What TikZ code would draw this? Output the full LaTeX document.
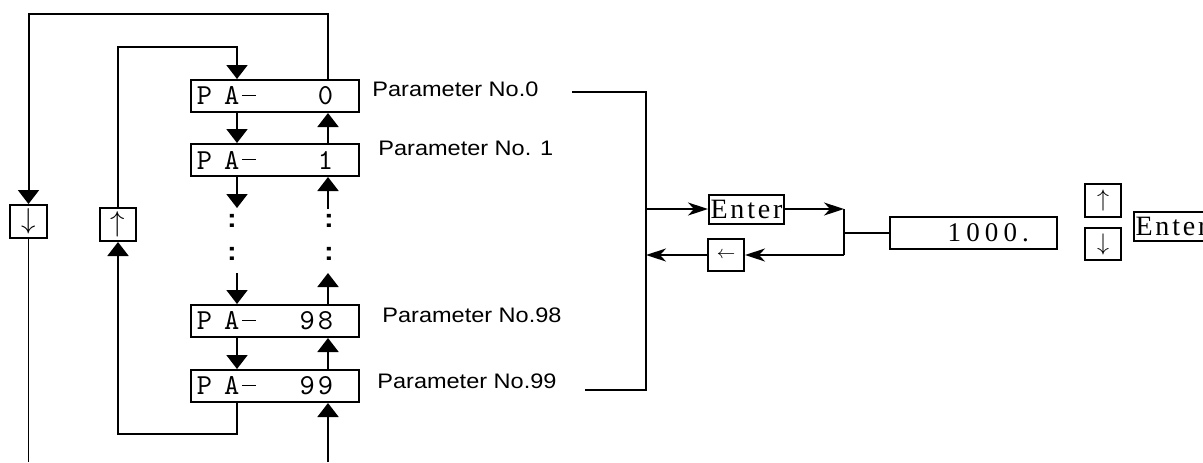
\documentclass[tikz,border=0pt]{standalone}
\usepackage{fontspec}
\usepackage{graphicx}
\setsansfont{Liberation Sans}[FakeStretch=1.12]
\newfontfamily\lcdfont[LetterSpace=19]{Liberation Serif}
\newfontfamily\keyfont[LetterSpace=10]{Liberation Serif}
\usetikzlibrary{arrows.meta}
% display text of a parameter box, drawn at 10pt and scaled up
\newcommand{\patext}[1]{\scalebox{1.45}{\makebox[53.8pt]{P\hspace{4.1pt}A\hspace{1pt}\rule[3.1pt]{4.8pt}{0.42pt}\hfill #1\hspace{6.9pt}}}}

\begin{document}
\begin{tikzpicture}[x=0.5pt,y=-0.5pt]
  \tikzstyle{pabox}  =[draw, line width=1pt, minimum width=84pt, minimum height=16pt, inner xsep=3pt, inner ysep=0pt, font=\ttfamily\fontsize{10}{12}\selectfont]
  \tikzstyle{keybox} =[draw, line width=1pt, inner sep=0pt]
  \tikzstyle{plabel} =[anchor=base west, inner sep=0pt, font=\sffamily\fontsize{10.5}{10.5}\selectfont]
  \tikzstyle{vdots}  =[inner sep=0pt, font=\sffamily\bfseries\fontsize{13}{13}\selectfont]
  \tikzstyle{arr}    =[line width=1pt, -{Triangle[length=7pt,width=10.5pt]}]
  \tikzstyle{sarr}   =[line width=0.9pt, -{Stealth[length=10pt,width=6.5pt,inset=3pt]}]
  \useasboundingbox (0,0) rectangle (1203,462);
  % parameter list
  \node[pabox](p0)  at (275,96)  {\patext{0}};
  \node[pabox](p1)  at (275,160) {\patext{1}};
  \node[pabox](p98) at (275,321) {\patext{9\hspace{1pt}8}};
  \node[pabox](p99) at (275,386) {\patext{9\hspace{1pt}9}};
  \node[plabel](l0)  at (372,96)  {Parameter No.0};
  \node[plabel](l1)  at (378,155) {Parameter No. 1};
  \node[plabel](l98) at (382,322) {Parameter No.98};
  \node[plabel](l99) at (377,388) {Parameter No.99};
  \node[vdots](d1) at (232,221) {:};
  \node[vdots](d2) at (232,254) {:};
  \node[vdots](d3) at (329,221) {:};
  \node[vdots](d4) at (329,254) {:};
  % keys
  \node[keybox, minimum width=18.5pt, minimum height=16.5pt, font=\fontsize{13.5}{13.5}\selectfont](kdown) at (28.5,221.5) {$\downarrow$};
  \node[keybox, minimum width=18pt, minimum height=16.5pt, font=\fontsize{13.5}{13.5}\selectfont](kup) at (118,224.5) {$\uparrow$};
  \node[keybox, minimum width=37.5pt, minimum height=14.5pt, font=\keyfont\fontsize{14}{14}\selectfont](enter) at (746.5,209) {Enter};
  \node[keybox, minimum width=18pt, minimum height=16pt, font=\fontsize{9.5}{9.5}\selectfont](back) at (726,255) {$\leftarrow$};
  \node[keybox, line width=0.8pt, minimum height=16pt, text width=55.5pt, inner xsep=14pt, align=right, font=\lcdfont\fontsize{13.5}{13.5}\selectfont](val) at (973.5,233) {1000.};
  \node[keybox, minimum width=18pt, minimum height=16.5pt, font=\fontsize{12}{12}\selectfont](kup2) at (1103,200.5) {$\uparrow$};
  \node[keybox, minimum width=18pt, minimum height=16pt, font=\fontsize{12}{12}\selectfont](kdown2) at (1103,244) {$\downarrow$};
  \node[keybox, line width=0.6pt, minimum width=37.5pt, minimum height=14.5pt, font=\keyfont\fontsize{14}{14}\selectfont](enter2) at (1171.5,226.5) {Enter};
  % helper points
  \coordinate (colL) at (237,0);
  \coordinate (colR) at (328,0);
  \coordinate (bot)  at (0,462);
  \coordinate (dL1) at (237,208);
  \coordinate (dR1) at (328,209);
  \coordinate (dL2) at (237,273);
  \coordinate (dR2) at (328,273);
  \coordinate (b0)   at (572,92);
  \coordinate (b99)  at (585,390);
  \coordinate (bx)   at (646,0);
  \coordinate (fork) at (844,0);
  % loops
  \draw[arr] (p0.north -| colR) -- ++(0,-65) -| (kdown.north);
  \draw (kdown.south) -- (kdown.south |- bot);
  \draw[arr] (colR |- bot) -- (p99.south -| colR);
  \draw[arr] (kup.north) -- ++(0,-160) -| (p0.north -| colL);
  \draw[arr] (p99.south -| colL) -- ++(0,31) -| (kup.south);
  % columns
  \draw[arr] (p0.south -| colL) -- (p1.north -| colL);
  \draw[arr] (p1.north -| colR) -- (p0.south -| colR);
  \draw[arr] (p1.south -| colL) -- (dL1);
  \draw[arr] (dR1) -- (p1.south -| colR);
  \draw[arr] (dL2) -- (p98.north -| colL);
  \draw[arr] (p98.north -| colR) -- (dR2);
  \draw[arr] (p98.south -| colL) -- (p99.north -| colL);
  \draw[arr] (p99.north -| colR) -- (p98.south -| colR);
  % bracket and enter
  \draw[line width=0.75pt] (b0) -| (bx |- b99) -- (b99);
  \draw[sarr] (bx |- enter) -- (enter.west);
  \draw[sarr] (enter.east) -- (fork |- enter);
  \draw[line width=0.9pt] (fork |- enter) -- (fork |- back);
  \draw[sarr] (fork |- back) -- (back.east);
  \draw[sarr] (back.west) -- (bx |- back);
  \draw[line width=0.9pt] (fork |- val) -- (val.west);
\end{tikzpicture}
\end{document}
